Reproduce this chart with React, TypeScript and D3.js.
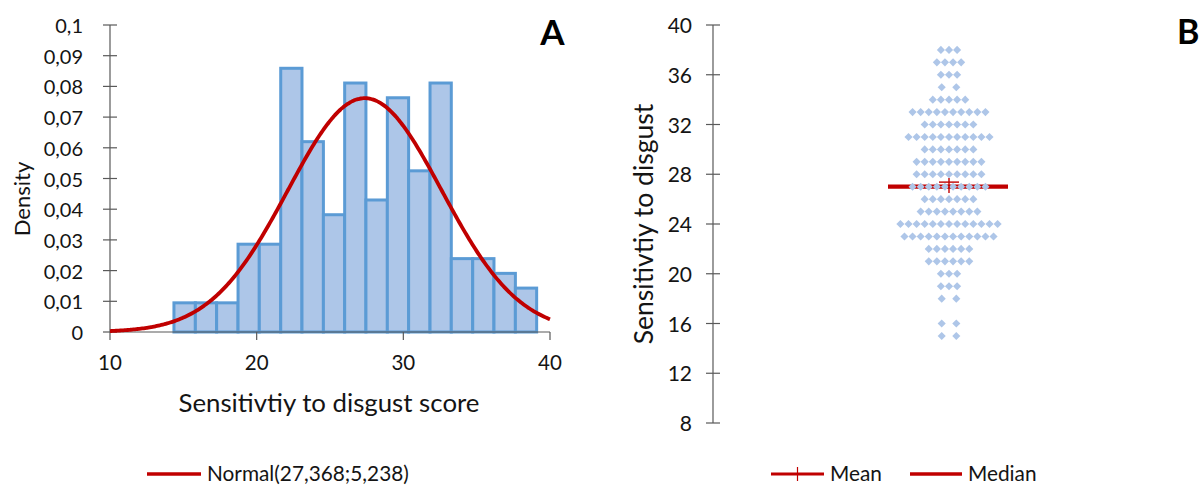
import React from "react";
import * as d3 from "d3";

// ---------- Panel A data (histogram) ----------
const binEdges = [10, 11.45, 12.91, 14.36, 15.82, 17.27, 18.73, 20.18, 21.64, 23.09, 24.55, 26.0, 27.45, 28.91, 30.36, 31.82, 33.27, 34.73, 36.18, 37.64, 39.09];
const densities = [0, 0, 0, 0.0095, 0.0095, 0.0095, 0.0286, 0.0286, 0.0859, 0.062, 0.0382, 0.0811, 0.043, 0.0763, 0.0525, 0.0811, 0.0239, 0.0239, 0.0191, 0.0143];
const normalMean = 27.368;
const normalSd = 5.238;
const xTicksA = [10, 20, 30, 40];
const yTicksA = [0, 0.01, 0.02, 0.03, 0.04, 0.05, 0.06, 0.07, 0.08, 0.09, 0.1];
const legendA = "Normal(27,368;5,238)";

// ---------- Panel B data (dot plot) ----------
const scoreValues = [38, 37, 36, 35, 34, 33, 32, 31, 30, 29, 28, 27, 26, 25, 24, 23, 22, 21, 20, 19, 18, 17, 16, 15];
const scoreCounts = [3, 4, 3, 2, 5, 10, 7, 11, 7, 9, 9, 10, 7, 8, 13, 12, 6, 6, 3, 3, 2, 0, 2, 2];
const meanB = 27.368;
const medianB = 27;
const yTicksB = [8, 12, 16, 20, 24, 28, 32, 36, 40];

const FONT = "Lato, 'Open Sans', sans-serif";
const TEXT = "#141414";
const AXIS = "#595959";
const RED = "#C00000";
const BAR_FILL = "#ADC6E8";
const BAR_STROKE = "#5B9BD5";
const DOT = "#AEC6E8";

const fmt = (v: number) => String(+v.toFixed(2)).replace(".", ",");

export default function App() {
  // Panel A scales
  const xA = d3.scaleLinear().domain([10, 40]).range([110, 550]);
  const yA = d3.scaleLinear().domain([0, 0.1]).range([332, 25]);

  const pdf = (x: number) =>
    Math.exp(-0.5 * ((x - normalMean) / normalSd) ** 2) / (normalSd * Math.sqrt(2 * Math.PI));
  const curvePts = d3.range(10, 40.001, 0.1).map((x) => [x, pdf(x)] as [number, number]);
  const line = d3
    .line<[number, number]>()
    .x((d) => xA(d[0]))
    .y((d) => yA(d[1]))
    .curve(d3.curveBasis);

  // Panel B scales
  const yB = d3.scaleLinear().domain([8, 40]).range([423, 25]);
  const axisXB = 713;
  const centerB = 949;
  const spacing = 8.1;
  const diamond = d3.symbol(d3.symbolSquare, 33)() as string;

  const dots: { x: number; y: number }[] = [];
  scoreValues.forEach((v, i) => {
    const n = scoreCounts[i];
    for (let k = 0; k < n; k++) {
      const off = n === 2 ? (k === 0 ? -0.9 : 0.9) : k - (n - 1) / 2;
      dots.push({ x: centerB + off * spacing, y: yB(v) });
    }
  });

  return (
    <svg width={1200} height={485} style={{ display: "block", position: "absolute", left: 0, top: 0 }} fontFamily={FONT}>
      <rect width={1200} height={485} fill="#fff" />
      {/* ---------- Panel A ---------- */}
      {densities.map((d, i) => (
        <rect
          key={i}
          x={xA(binEdges[i])}
          y={yA(d)}
          width={xA(binEdges[i + 1]) - xA(binEdges[i])}
          height={yA(0) - yA(d)}
          fill={BAR_FILL}
          stroke={BAR_STROKE}
          strokeWidth={3}
        />
      ))}
      {/* axes A */}
      <line x1={xA(10)} x2={xA(10)} y1={yA(0.1)} y2={yA(0)} stroke={AXIS} strokeWidth={1.2} />
      {yTicksA.map((t) => (
        <g key={t}>
          <line x1={xA(10) - 7} x2={xA(10) + 7} y1={yA(t)} y2={yA(t)} stroke={AXIS} strokeWidth={1.2} />
          <text x={83} y={yA(t) + 8} textAnchor="end" fontSize={20} fill={TEXT}>
            {fmt(t)}
          </text>
        </g>
      ))}
      <line x1={xA(10)} x2={xA(40)} y1={yA(0)} y2={yA(0)} stroke={AXIS} strokeWidth={1.2} />
      {xTicksA.map((t) => (
        <g key={t}>
          <line x1={xA(t)} x2={xA(t)} y1={yA(0)} y2={yA(0) + 8} stroke={AXIS} strokeWidth={1.2} />
          <text x={xA(t)} y={370} textAnchor="middle" fontSize={20.5} fill={TEXT}>
            {t}
          </text>
        </g>
      ))}
      <path d={line(curvePts) as string} fill="none" stroke={RED} strokeWidth={3.8} />
      <text x={329} y={412} textAnchor="middle" fontSize={25.8} fill={TEXT}>
        Sensitivtiy to disgust score
      </text>
      <text transform={`translate(30,199) rotate(-90)`} textAnchor="middle" fontSize={22} fill={TEXT}>
        Density
      </text>
      <text x={552.5} y={45} textAnchor="middle" fontSize={35} fontWeight="bold" fill="#000">
        A
      </text>
      {/* legend A */}
      <line x1={147} x2={201} y1={474} y2={474} stroke={RED} strokeWidth={3.4} />
      <text x={207} y={480.5} fontSize={20.8} fill={TEXT}>
        {legendA}
      </text>

      {/* ---------- Panel B ---------- */}
      <line x1={axisXB} x2={axisXB} y1={yB(40)} y2={yB(8)} stroke={AXIS} strokeWidth={1.2} />
      {yTicksB.map((t) => (
        <g key={t}>
          <line x1={axisXB - 7} x2={axisXB + 7} y1={yB(t)} y2={yB(t)} stroke={AXIS} strokeWidth={1.2} />
          <text x={692} y={yB(t) + 8} textAnchor="end" fontSize={21} fill={TEXT}>
            {t}
          </text>
        </g>
      ))}
      <text transform={`translate(653,224) rotate(-90)`} textAnchor="middle" fontSize={26.5} fill={TEXT}>
        Sensitivtiy to disgust
      </text>
      {/* median line */}
      <line x1={888} x2={1008} y1={yB(medianB)} y2={yB(medianB)} stroke={RED} strokeWidth={4.2} />
      {dots.map((d, i) => (
        <path key={i} d={diamond} transform={`translate(${d.x},${d.y}) rotate(45)`} fill={DOT} />
      ))}
      {/* mean cross */}
      <line x1={centerB - 10} x2={centerB + 10} y1={yB(meanB)} y2={yB(meanB)} stroke={RED} strokeWidth={1.4} />
      <line x1={centerB} x2={centerB} y1={yB(meanB) - 4} y2={yB(meanB) + 11} stroke={RED} strokeWidth={1.4} />
      <text x={1177} y={44} fontSize={34} fontWeight="bold" fill="#000">
        B
      </text>
      {/* legend B */}
      <line x1={771} x2={824} y1={474} y2={474} stroke={RED} strokeWidth={2.8} />
      <line x1={797.5} x2={797.5} y1={467} y2={481} stroke={RED} strokeWidth={1.2} />
      <text x={830} y={480.5} fontSize={20.8} fill={TEXT}>
        Mean
      </text>
      <line x1={910} x2={962} y1={474} y2={474} stroke={RED} strokeWidth={3.6} />
      <text x={968} y={480.5} fontSize={20.8} fill={TEXT}>
        Median
      </text>
    </svg>
  );
}
